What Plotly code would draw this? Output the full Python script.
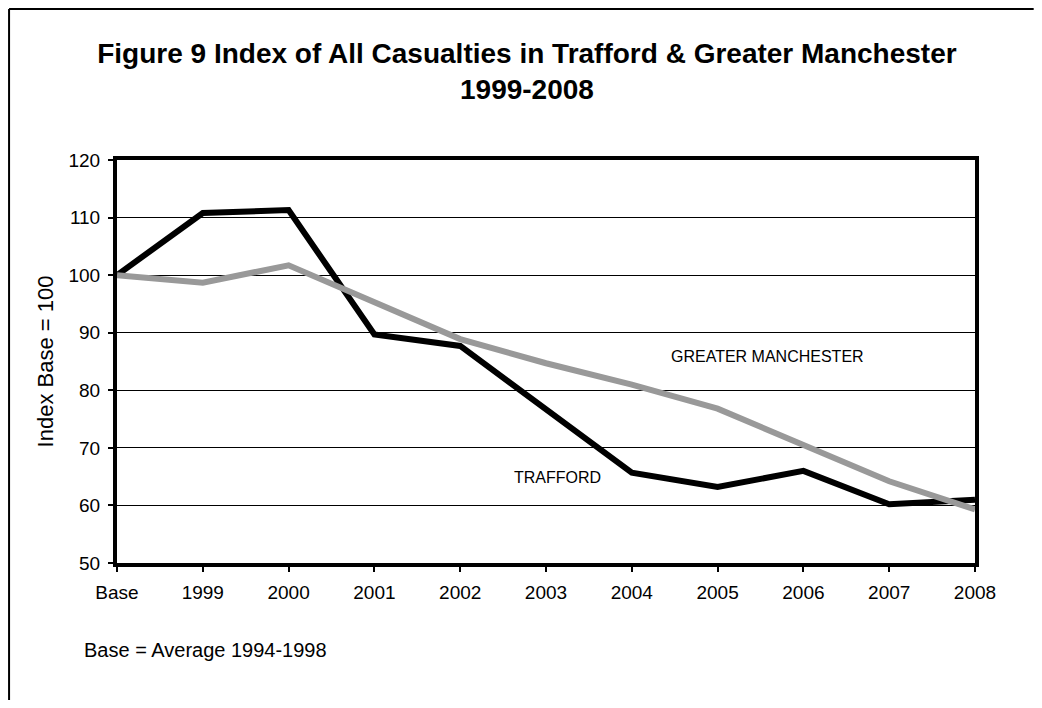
import plotly.graph_objects as go

# Index of all casualties, base = average 1994-1998
years = ['Base', '1999', '2000', '2001', '2002', '2003',
         '2004', '2005', '2006', '2007', '2008']
trafford = [100.0, 110.8, 111.3, 89.7, 87.7, 76.7, 65.7, 63.2, 66.0, 60.2, 61.0]
greater_manchester = [100.0, 98.7, 101.7, 95.2, 88.9, 84.7, 81.0, 76.8, 70.6, 64.2, 59.3]

FONT = 'Liberation Sans, Arial, sans-serif'

# page body keeps its default 8px margin, so the figure is 16px smaller than the window
fig = go.Figure(
    layout=go.Layout(
        width=1026,
        height=692,
        template='simple_white',
        paper_bgcolor='white',
        plot_bgcolor='white',
        margin={'t': 152, 'b': 137, 'l': 109, 'r': 59},
        showlegend=False,
        font=dict(family=FONT, color='black'),
        title=dict(
            text='Figure 9 Index of All Casualties in Trafford & Greater Manchester<br>1999-2008',
            x=0.5058,
            xanchor='center',
            y=0.921,
            yanchor='middle',
            font=dict(size=28, family=FONT, color='black', weight='bold')
        ),
        annotations=[
            dict(
                text='GREATER MANCHESTER',
                x=7.585, y=85.8,
                xref='x', yref='y',
                font_size=16,
                showarrow=False
            ),
            dict(
                text='TRAFFORD',
                x=5.13, y=64.8,
                xref='x', yref='y',
                font_size=16,
                showarrow=False
            ),
            dict(
                text='Base = Average 1994-1998',
                x=-0.041, y=-0.215,
                xref='paper', yref='paper',
                xanchor='left', yanchor='middle',
                font_size=20,
                showarrow=False
            )
        ],
        shapes=[
            # outer chart frame: only its left and top edges are in view
            # (opacity set explicitly, the template default is 0.3)
            dict(
                type='line',
                xref='paper', yref='paper',
                x0=-0.1258, x1=-0.1258,
                y0=-0.34, y1=1.3747,
                opacity=1,
                line=dict(color='black', width=2)
            ),
            dict(
                type='line',
                xref='paper', yref='paper',
                x0=-0.1258, x1=1.0684,
                y0=1.3747, y1=1.3747,
                opacity=1,
                line=dict(color='black', width=2)
            )
        ]
    )
)

fig.add_trace(
    go.Scatter(
        x=years,
        y=trafford,
        mode='lines',
        name='TRAFFORD',
        line=dict(color='black', width=6)
    )
)
fig.add_trace(
    go.Scatter(
        x=years,
        y=greater_manchester,
        mode='lines',
        name='GREATER MANCHESTER',
        line=dict(color='#999999', width=6)
    )
)

fig.update_xaxes(
    type='category',
    range=[0, 10],
    showline=True,
    linecolor='black',
    linewidth=4,
    mirror=True,
    ticks='outside',
    ticklen=5,
    tickwidth=2,
    tickcolor='black',
    ticklabelstandoff=4,
    tickfont=dict(size=19, family=FONT, color='black'),
    showgrid=False
)
fig.update_yaxes(
    range=[50, 120],
    dtick=10,
    showline=True,
    linecolor='black',
    linewidth=4,
    mirror=True,
    ticks='outside',
    ticklen=5,
    tickwidth=2,
    tickcolor='black',
    ticklabelstandoff=4,
    tickfont=dict(size=19, family=FONT, color='black'),
    showgrid=True,
    gridcolor='black',
    gridwidth=1,
    zeroline=False,
    title=dict(
        text='Index Base = 100',
        font=dict(size=22, family=FONT, color='black'),
        standoff=10
    )
)

fig.write_html('out.html')
